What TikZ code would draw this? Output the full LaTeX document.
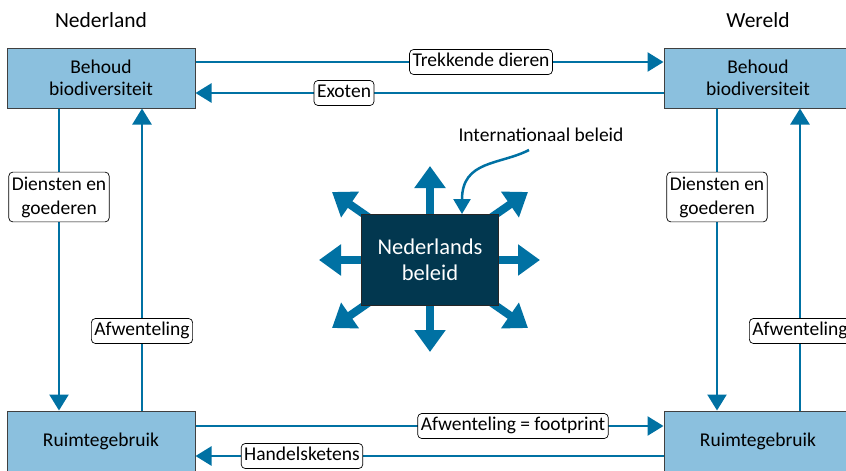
\documentclass[tikz,border=0pt]{standalone}
\usepackage{fontspec}
\setmainfont{Carlito}
\usetikzlibrary{arrows.meta}
\definecolor{lblue}{HTML}{8BC0DE}
\definecolor{navy}{HTML}{02374F}
\definecolor{arr}{HTML}{0071A3}
\begin{document}
\begin{tikzpicture}[x=1pt,y=-1pt,
  font=\fontsize{19.5}{22}\selectfont,
  box/.style={draw=black!75, line width=1pt, fill=lblue, minimum width=188pt, minimum height=60pt, inner sep=0pt, align=center},
  labbase/.style={draw=black, fill=white, rounded corners=4pt, inner xsep=3pt, line width=0.7pt, align=center, font=\fontsize{19.5}{24}\selectfont},
  lab/.style={labbase, inner ysep=4pt, text height=13pt, text depth=4pt},
  labtwo/.style={labbase, inner ysep=4.5pt},
  flow/.style={draw=arr, line width=2.5pt, -{Triangle[width=19pt,length=16pt]}},
  big/.style={draw=arr, line width=8pt, -{Triangle[width=30pt,length=22pt]}},
  curv/.style={draw=arr, line width=2.5pt, -{Triangle[width=17pt,length=15pt]}},
  title/.style={inner sep=0pt, font=\fontsize{21.5}{24}\selectfont}
]
\useasboundingbox (0,0) rectangle (846,471);
\node[title] (tn) at (101,20) {Nederland};
\node[title] (tw) at (758,20) {Wereld};
\node[box] (bl) at (101,78) {Behoud\\biodiversiteit};
\node[box] (br) at (758,78) {Behoud\\biodiversiteit};
\node[box] (rl) at (101,441) {Ruimtegebruik};
\node[box] (rr) at (758,441) {Ruimtegebruik};
% horizontal flows
\draw[flow] (bl.east |- 0,62) -- (br.west |- 0,62);
\node[lab] (l1) at (481,62) {Trekkende dieren};
\draw[flow] (br.west |- 0,93) -- (bl.east |- 0,93);
\node[lab] (l2) at (344,93) {Exoten};
\draw[flow] (rl.east |- 0,426) -- (rr.west |- 0,426);
\node[lab] (l3) at (513,426) {Afwenteling = footprint};
\draw[flow] (rr.west |- 0,456) -- (rl.east |- 0,456);
\node[lab] (l4) at (302,456) {Handelsketens};
% vertical flows
\draw[flow] (bl.south -| 59,0) -- (rl.north -| 59,0);
\node[labtwo] (l5) at (59,197) {Diensten en\\goederen};
\draw[flow] (rl.north -| 142,0) -- (bl.south -| 142,0);
\node[lab] (l6) at (142,331) {Afwenteling};
\draw[flow] (br.south -| 717,0) -- (rr.north -| 717,0);
\node[labtwo] (l7) at (717,197) {Diensten en\\goederen};
\draw[flow] (rr.north -| 800,0) -- (br.south -| 800,0);
\node[lab] (l8) at (800,331) {Afwenteling};
% centre
\coordinate (c) at (430,260);
\coordinate (an) at (430,166);
\coordinate (as) at (430,352);
\coordinate (aw) at (319,260);
\coordinate (ae) at (540,260);
\coordinate (anw) at (332,192);
\coordinate (ane) at (528,192);
\coordinate (asw) at (332,328);
\coordinate (ase) at (528,328);
\foreach \t in {an,as,aw,ae,anw,ane,asw,ase} \draw[big] (c) -- (\t);
\node[draw=black!85, line width=1pt, fill=navy, text=white, minimum width=137pt, minimum height=91pt, align=center, font=\fontsize{22.5}{26}\selectfont] (nb) at (430,260) {Nederlands\\beleid};
\node[inner sep=0pt] (ib) at (541,135) {Internationaal beleid};
\draw[curv] (529,150) .. controls (500,165) and (462,160) .. (nb.north -| 462,0);
\end{tikzpicture}
\end{document}
